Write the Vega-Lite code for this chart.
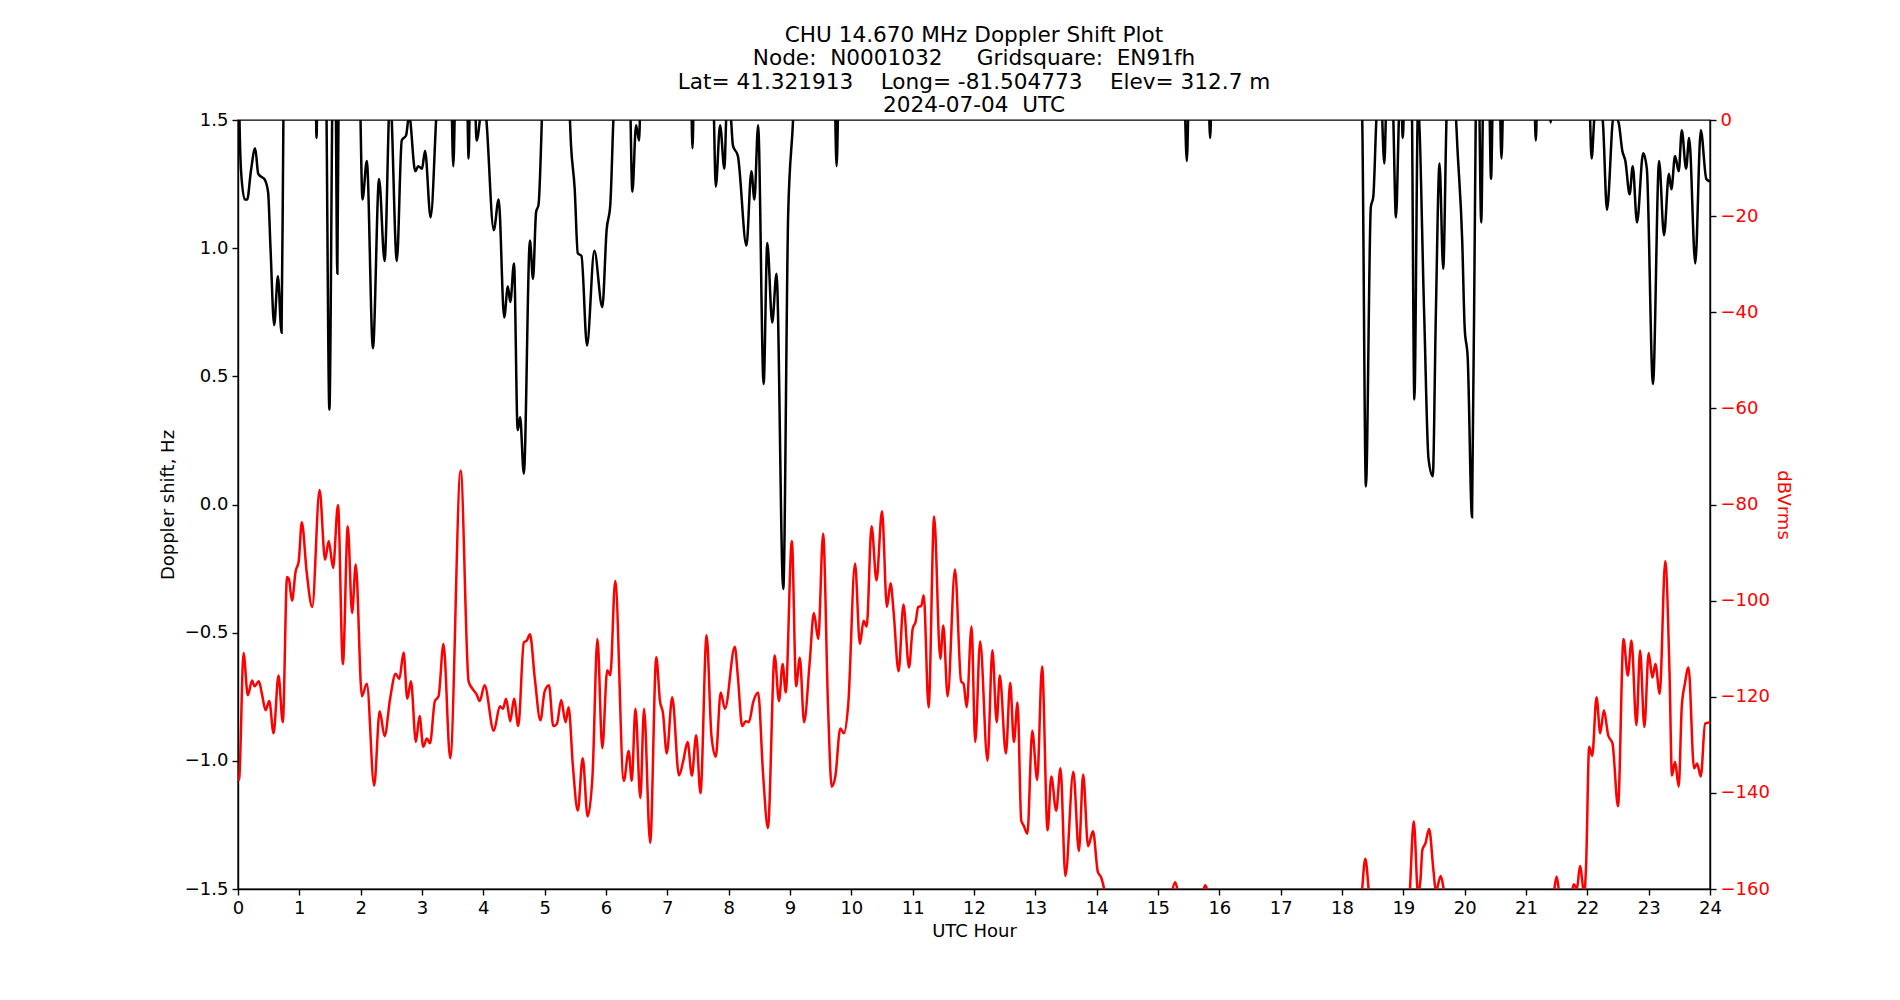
{
  "$schema": "https://vega.github.io/schema/vega-lite/v6.json",
  "width": 1472,
  "height": 769,
  "autosize": {"type": "none"},
  "padding": {"left": 238, "top": 120, "right": 190, "bottom": 111},
  "background": "white",
  "config": {
    "font": "DejaVu Sans",
    "view": {"stroke": "black", "strokeWidth": 1.4},
    "axis": {
      "labelFontSize": 18, "titleFontSize": 18, "titleFontWeight": "normal",
      "labelColor": "black", "titleColor": "black", "tickColor": "black", "domainColor": "black",
      "tickSize": 6, "labelPadding": 4, "grid": false, "domainWidth": 1.4, "tickWidth": 1.4,
      "labelFlush": false, "labelOverlap": false
    }
  },
  "title": {
    "text": ["CHU 14.670 MHz Doppler Shift Plot", "Node:\u00a0\u00a0N0001032\u00a0\u00a0\u00a0\u00a0\u00a0Gridsquare:\u00a0\u00a0EN91fh", "Lat=\u00a041.321913\u00a0\u00a0\u00a0\u00a0Long=\u00a0-81.504773\u00a0\u00a0\u00a0\u00a0Elev=\u00a0312.7\u00a0m", "2024-07-04\u00a0\u00a0UTC"],
    "fontSize": 21.6, "fontWeight": "normal", "anchor": "middle", "frame": "group", "offset": -6, "lineHeight": 23.5, "color": "black"
  },
  "datasets": {
    "dop": [
      {"h":0.0,"v":2.0},{"h":0.01,"v":1.75},{"h":0.05,"v":1.3},{"h":0.11,"v":1.19},{"h":0.15,"v":1.19},{"h":0.21,"v":1.3},{"h":0.28,"v":1.39},{"h":0.33,"v":1.29},{"h":0.37,"v":1.28},{"h":0.43,"v":1.27},{"h":0.49,"v":1.22},{"h":0.53,"v":1.0},{"h":0.59,"v":0.70},{"h":0.65,"v":0.89},{"h":0.71,"v":0.67},{"h":0.74,"v":1.5},{"h":0.77,"v":2.0},
      {"h":1.0,"v":2.5},{"h":1.26,"v":1.8},{"h":1.28,"v":1.43},{"h":1.30,"v":1.8},{"h":1.36,"v":2.2},{"h":1.43,"v":1.8},{"h":1.49,"v":0.37},{"h":1.55,"v":1.8},{"h":1.58,"v":1.9},{"h":1.62,"v":0.90},{"h":1.65,"v":1.9},{"h":1.8,"v":2.3},{"h":1.98,"v":1.7},
      {"h":2.03,"v":1.19},{"h":2.10,"v":1.34},{"h":2.20,"v":0.61},{"h":2.30,"v":1.27},{"h":2.39,"v":0.95},{"h":2.48,"v":1.6},{"h":2.59,"v":0.95},{"h":2.67,"v":1.42},{"h":2.74,"v":1.44},{"h":2.79,"v":1.52},{"h":2.89,"v":1.30},{"h":2.94,"v":1.32},{"h":3.0,"v":1.31},{"h":3.05,"v":1.38},{"h":3.14,"v":1.12},{"h":3.24,"v":1.55},{"h":3.35,"v":2.0},{"h":3.47,"v":1.7},{"h":3.51,"v":1.32},{"h":3.55,"v":1.7},{"h":3.65,"v":2.0},{"h":3.73,"v":1.7},{"h":3.76,"v":1.35},{"h":3.79,"v":1.7},{"h":3.86,"v":1.6},{"h":3.89,"v":1.42},{"h":3.97,"v":1.55},{"h":4.01,"v":1.6},
      {"h":4.05,"v":1.5},{"h":4.17,"v":1.07},{"h":4.25,"v":1.19},{"h":4.34,"v":0.73},{"h":4.40,"v":0.85},{"h":4.44,"v":0.79},{"h":4.50,"v":0.94},{"h":4.56,"v":0.29},{"h":4.60,"v":0.34},{"h":4.66,"v":0.12},{"h":4.76,"v":1.03},{"h":4.81,"v":0.88},{"h":4.86,"v":1.14},{"h":4.90,"v":1.17},{"h":4.96,"v":1.55},{"h":5.0,"v":1.9},{"h":5.2,"v":2.3},{"h":5.38,"v":1.7},{"h":5.43,"v":1.4},{"h":5.49,"v":1.23},{"h":5.54,"v":0.98},{"h":5.60,"v":0.97},{"h":5.69,"v":0.62},{"h":5.81,"v":0.99},{"h":5.94,"v":0.77},{"h":6.01,"v":1.07},{"h":6.07,"v":1.17},{"h":6.12,"v":1.5},{"h":6.2,"v":1.9},{"h":6.38,"v":1.7},{"h":6.43,"v":1.22},{"h":6.49,"v":1.48},{"h":6.54,"v":1.42},{"h":6.57,"v":1.7},{"h":6.8,"v":2.2},{"h":7.38,"v":1.7},{"h":7.41,"v":1.39},{"h":7.44,"v":1.7},{"h":7.6,"v":2.0},{"h":7.75,"v":1.6},{"h":7.79,"v":1.24},{"h":7.86,"v":1.48},{"h":7.93,"v":1.31},{"h":7.97,"v":1.55},{"h":8.02,"v":1.55},
      {"h":8.07,"v":1.40},{"h":8.15,"v":1.36},{"h":8.29,"v":1.01},{"h":8.37,"v":1.30},{"h":8.42,"v":1.19},{"h":8.48,"v":1.48},{"h":8.57,"v":0.47},{"h":8.63,"v":1.02},{"h":8.71,"v":0.71},{"h":8.78,"v":0.90},{"h":8.89,"v":-0.33},{"h":8.97,"v":1.13},{"h":9.05,"v":1.5},{"h":9.1,"v":1.8},{"h":9.4,"v":2.3},{"h":9.72,"v":1.7},{"h":9.76,"v":1.32},{"h":9.80,"v":1.7},{"h":10.2,"v":2.3},{"h":12.5,"v":2.4},{"h":15.2,"v":2.1},{"h":15.42,"v":1.7},{"h":15.47,"v":1.34},{"h":15.51,"v":1.7},{"h":15.65,"v":2.0},{"h":15.82,"v":1.65},{"h":15.85,"v":1.43},{"h":15.88,"v":1.65},{"h":16.5,"v":2.3},
      {"h":18.25,"v":2.0},{"h":18.33,"v":1.5},{"h":18.39,"v":0.07},{"h":18.47,"v":1.16},{"h":18.51,"v":1.20},{"h":18.56,"v":1.5},{"h":18.62,"v":1.7},{"h":18.69,"v":1.33},{"h":18.73,"v":1.6},{"h":18.82,"v":1.6},{"h":18.88,"v":1.12},{"h":18.94,"v":1.55},{"h":18.97,"v":1.55},{"h":18.99,"v":1.43},{"h":19.02,"v":1.6},{"h":19.13,"v":1.7},{"h":19.18,"v":0.41},{"h":19.24,"v":1.55},{"h":19.34,"v":0.74},{"h":19.41,"v":0.18},{"h":19.48,"v":0.11},{"h":19.53,"v":0.74},{"h":19.59,"v":1.33},{"h":19.65,"v":0.92},{"h":19.71,"v":1.55},{"h":19.78,"v":1.7},{"h":19.85,"v":1.55},{"h":19.88,"v":1.40},{"h":19.96,"v":1.03},{"h":20.0,"v":0.69},{"h":20.05,"v":0.57},{"h":20.12,"v":-0.05},{"h":20.18,"v":1.5},{"h":20.22,"v":1.8},{"h":20.27,"v":1.10},{"h":20.31,"v":1.7},{"h":20.39,"v":1.7},{"h":20.43,"v":1.27},{"h":20.47,"v":1.7},{"h":20.56,"v":1.7},{"h":20.60,"v":1.35},{"h":20.64,"v":1.7},{"h":20.9,"v":2.1},{"h":21.13,"v":1.65},{"h":21.16,"v":1.42},{"h":21.19,"v":1.65},{"h":21.37,"v":1.6},{"h":21.40,"v":1.49},{"h":21.43,"v":1.6},{"h":21.75,"v":2.0},{"h":22.03,"v":1.6},
      {"h":22.07,"v":1.35},{"h":22.12,"v":1.52},{"h":22.18,"v":1.55},{"h":22.25,"v":1.5},{"h":22.32,"v":1.15},{"h":22.43,"v":1.52},{"h":22.51,"v":1.49},{"h":22.57,"v":1.38},{"h":22.62,"v":1.34},{"h":22.69,"v":1.21},{"h":22.74,"v":1.32},{"h":22.81,"v":1.10},{"h":22.91,"v":1.37},{"h":22.97,"v":1.31},{"h":23.07,"v":0.47},{"h":23.17,"v":1.34},{"h":23.25,"v":1.05},{"h":23.33,"v":1.29},{"h":23.37,"v":1.23},{"h":23.43,"v":1.36},{"h":23.49,"v":1.30},{"h":23.54,"v":1.46},{"h":23.61,"v":1.31},{"h":23.66,"v":1.43},{"h":23.76,"v":0.94},{"h":23.85,"v":1.46},{"h":23.94,"v":1.27},{"h":24.0,"v":1.26}
    ],
    "pwr": [
      {"h":0.0,"db":-137.5},{"h":0.02,"db":-136.9},{"h":0.09,"db":-110.9},{"h":0.16,"db":-119.7},{"h":0.23,"db":-116.6},{"h":0.27,"db":-117.8},{"h":0.34,"db":-116.8},{"h":0.39,"db":-119.4},{"h":0.45,"db":-122.8},{"h":0.51,"db":-120.9},{"h":0.58,"db":-127.6},{"h":0.66,"db":-115.6},{"h":0.73,"db":-125.3},{"h":0.80,"db":-95.1},{"h":0.83,"db":-95.5},{"h":0.88,"db":-100.0},{"h":0.94,"db":-93.9},{"h":0.99,"db":-91.8},{"h":1.04,"db":-83.7},{"h":1.12,"db":-94.1},{"h":1.21,"db":-101.3},{"h":1.33,"db":-77.0},{"h":1.42,"db":-91.5},{"h":1.48,"db":-87.6},{"h":1.55,"db":-93.2},{"h":1.63,"db":-80.1},{"h":1.71,"db":-113.2},{"h":1.79,"db":-84.5},{"h":1.86,"db":-102.6},{"h":1.92,"db":-92.5},
      {"h":2.02,"db":-119.9},{"h":2.10,"db":-117.3},{"h":2.22,"db":-138.5},{"h":2.31,"db":-123.0},{"h":2.39,"db":-128.2},{"h":2.48,"db":-120.4},{"h":2.57,"db":-115.2},{"h":2.63,"db":-116.3},{"h":2.70,"db":-110.8},{"h":2.76,"db":-120.4},{"h":2.82,"db":-116.8},{"h":2.90,"db":-129.4},{"h":2.96,"db":-124.0},{"h":3.02,"db":-130.4},{"h":3.08,"db":-128.7},{"h":3.13,"db":-129.7},{"h":3.21,"db":-120.9},{"h":3.27,"db":-119.9},{"h":3.35,"db":-109.0},{"h":3.46,"db":-132.8},{"h":3.63,"db":-72.9},{"h":3.76,"db":-116.8},{"h":3.82,"db":-118.3},{"h":3.89,"db":-119.5},{"h":3.94,"db":-120.9},
      {"h":4.02,"db":-117.6},{"h":4.17,"db":-127.1},{"h":4.27,"db":-122.0},{"h":4.32,"db":-122.5},{"h":4.37,"db":-120.4},{"h":4.44,"db":-125.1},{"h":4.50,"db":-120.4},{"h":4.57,"db":-126.1},{"h":4.66,"db":-108.7},{"h":4.71,"db":-108.3},{"h":4.76,"db":-107.0},{"h":4.84,"db":-116.3},{"h":4.93,"db":-124.9},{"h":5.00,"db":-118.9},{"h":5.07,"db":-117.6},{"h":5.14,"db":-126.1},{"h":5.20,"db":-125.6},{"h":5.27,"db":-120.7},{"h":5.34,"db":-125.3},{"h":5.39,"db":-122.2},{"h":5.46,"db":-134.4},{"h":5.54,"db":-143.7},{"h":5.62,"db":-132.8},{"h":5.70,"db":-144.9},{"h":5.78,"db":-136.4},{"h":5.86,"db":-108.0},{"h":5.94,"db":-130.7},
      {"h":6.02,"db":-114.5},{"h":6.07,"db":-115.5},{"h":6.15,"db":-95.9},{"h":6.29,"db":-137.5},{"h":6.37,"db":-131.3},{"h":6.42,"db":-137.5},{"h":6.48,"db":-122.5},{"h":6.56,"db":-141.1},{"h":6.62,"db":-122.5},{"h":6.72,"db":-150.4},{"h":6.82,"db":-111.8},{"h":6.88,"db":-120.9},{"h":6.93,"db":-123.5},{"h":6.99,"db":-131.8},{"h":7.08,"db":-120.1},{"h":7.19,"db":-136.4},{"h":7.26,"db":-133.3},{"h":7.33,"db":-129.4},{"h":7.40,"db":-136.4},{"h":7.47,"db":-128.0},{"h":7.54,"db":-140.1},{"h":7.64,"db":-107.2},{"h":7.72,"db":-128.2},{"h":7.79,"db":-132.5},{"h":7.87,"db":-119.1},{"h":7.94,"db":-122.5},
      {"h":8.10,"db":-109.6},{"h":8.15,"db":-115.8},{"h":8.22,"db":-126.1},{"h":8.28,"db":-125.1},{"h":8.33,"db":-125.3},{"h":8.40,"db":-121.1},{"h":8.48,"db":-119.1},{"h":8.56,"db":-135.9},{"h":8.64,"db":-147.3},{"h":8.75,"db":-111.4},{"h":8.82,"db":-120.9},{"h":8.88,"db":-113.2},{"h":8.93,"db":-119.1},{"h":9.03,"db":-87.6},{"h":9.10,"db":-117.8},{"h":9.16,"db":-111.9},{"h":9.23,"db":-125.3},{"h":9.32,"db":-113.0},{"h":9.39,"db":-102.6},{"h":9.46,"db":-108.0},{"h":9.54,"db":-86.1},{"h":9.62,"db":-122.0},{"h":9.68,"db":-138.7},{"h":9.74,"db":-136.5},{"h":9.82,"db":-126.6},{"h":9.88,"db":-127.6},{"h":9.95,"db":-121.5},
      {"h":10.06,"db":-92.3},{"h":10.14,"db":-109.0},{"h":10.20,"db":-104.2},{"h":10.25,"db":-105.4},{"h":10.33,"db":-84.5},{"h":10.41,"db":-95.8},{"h":10.50,"db":-81.4},{"h":10.58,"db":-101.3},{"h":10.64,"db":-96.4},{"h":10.69,"db":-102.5},{"h":10.77,"db":-114.7},{"h":10.85,"db":-100.8},{"h":10.94,"db":-113.9},{"h":11.00,"db":-105.9},{"h":11.05,"db":-104.3},{"h":11.09,"db":-101.3},{"h":11.14,"db":-101.1},{"h":11.18,"db":-98.9},{"h":11.26,"db":-122.2},{"h":11.35,"db":-82.5},{"h":11.45,"db":-112.1},{"h":11.50,"db":-105.2},{"h":11.57,"db":-119.9},{"h":11.69,"db":-93.5},{"h":11.79,"db":-116.8},{"h":11.83,"db":-117.3},{"h":11.88,"db":-122.2},{"h":11.96,"db":-105.4},
      {"h":12.02,"db":-129.4},{"h":12.10,"db":-108.5},{"h":12.22,"db":-133.3},{"h":12.30,"db":-110.3},{"h":12.37,"db":-125.3},{"h":12.42,"db":-115.6},{"h":12.52,"db":-131.8},{"h":12.59,"db":-117.1},{"h":12.65,"db":-129.4},{"h":12.71,"db":-121.2},{"h":12.77,"db":-145.7},{"h":12.81,"db":-146.8},{"h":12.87,"db":-148.5},{"h":12.95,"db":-127.1},{"h":13.03,"db":-137.3},{"h":13.11,"db":-113.7},{"h":13.20,"db":-147.8},{"h":13.26,"db":-136.6},{"h":13.34,"db":-143.7},{"h":13.41,"db":-134.9},{"h":13.49,"db":-157.3},{"h":13.62,"db":-135.6},{"h":13.71,"db":-152.1},{"h":13.78,"db":-136.2},{"h":13.86,"db":-151.1},{"h":13.94,"db":-148.0},{"h":14.02,"db":-156.5},{"h":14.07,"db":-157.5},{"h":14.13,"db":-160.5},{"h":14.2,"db":-166},
      {"h":14.6,"db":-175},{"h":15.2,"db":-162},{"h":15.28,"db":-158.6},{"h":15.36,"db":-162},{"h":15.7,"db":-162},{"h":15.77,"db":-159.2},{"h":15.84,"db":-162},{"h":16.5,"db":-175},{"h":18.3,"db":-163},{"h":18.38,"db":-153.7},{"h":18.46,"db":-163},{"h":19.0,"db":-175},{"h":19.10,"db":-162},{"h":19.17,"db":-145.9},{"h":19.24,"db":-161},{"h":19.28,"db":-158},{"h":19.31,"db":-151.9},{"h":19.36,"db":-150.5},{"h":19.42,"db":-147.5},{"h":19.49,"db":-156},{"h":19.53,"db":-160.5},{"h":19.61,"db":-157.3},{"h":19.67,"db":-161},{"h":19.8,"db":-170},{"h":21.0,"db":-175},{"h":21.44,"db":-162},{"h":21.50,"db":-157.4},{"h":21.56,"db":-162},{"h":21.72,"db":-162},{"h":21.78,"db":-159},{"h":21.83,"db":-160},{"h":21.88,"db":-155.2},{"h":21.95,"db":-161},{"h":21.98,"db":-155},
      {"h":22.03,"db":-130.4},{"h":22.08,"db":-132.3},{"h":22.15,"db":-120.1},{"h":22.21,"db":-127.6},{"h":22.27,"db":-122.8},{"h":22.34,"db":-128.0},{"h":22.41,"db":-129.7},{"h":22.50,"db":-142.8},{"h":22.59,"db":-108.0},{"h":22.66,"db":-115.6},{"h":22.72,"db":-108.3},{"h":22.80,"db":-125.9},{"h":22.86,"db":-110.4},{"h":22.93,"db":-126.3},{"h":23.00,"db":-110.9},{"h":23.06,"db":-116.0},{"h":23.11,"db":-113.2},{"h":23.18,"db":-119.4},{"h":23.27,"db":-91.8},{"h":23.34,"db":-115},{"h":23.38,"db":-136.4},{"h":23.43,"db":-133.5},{"h":23.49,"db":-138.7},{"h":23.54,"db":-122},{"h":23.59,"db":-117.3},{"h":23.65,"db":-113.9},{"h":23.74,"db":-134.9},{"h":23.79,"db":-133.9},{"h":23.85,"db":-136.6},{"h":23.92,"db":-125.6},{"h":24.0,"db":-125.3}
    ]
  },
  "layer": [
    {
      "layer": [
        {
          "mark": {"type": "rule", "color": "#808080", "strokeWidth": 1.5},
          "encoding": {
            "y": {"datum": 0, "type": "quantitative", "scale": {"domain": [-1.5, 1.5], "nice": false}, "title": "Doppler shift, Hz", "axis": {"orient": "left", "values": [-1.5, -1.0, -0.5, 0.0, 0.5, 1.0, 1.5], "format": ".1f", "titlePadding": 7}}
          }
        },
        {
          "data": {"name": "dop"},
          "mark": {"type": "line", "color": "black", "strokeWidth": 2.5, "interpolate": "monotone", "clip": true},
          "encoding": {
            "x": {"field": "h", "type": "quantitative", "scale": {"domain": [0, 24], "nice": false}, "title": "UTC Hour", "axis": {"values": [0,1,2,3,4,5,6,7,8,9,10,11,12,13,14,15,16,17,18,19,20,21,22,23,24], "format": "d", "titlePadding": 5}},
            "y": {"field": "v", "type": "quantitative", "scale": {"domain": [-1.5, 1.5], "nice": false}, "title": "Doppler shift, Hz", "axis": {"orient": "left", "values": [-1.5, -1.0, -0.5, 0.0, 0.5, 1.0, 1.5], "format": ".1f", "titlePadding": 7}}
          }
        }
      ]
    },
    {
      "data": {"name": "pwr"},
      "mark": {"type": "line", "color": "red", "strokeWidth": 2.5, "interpolate": "monotone", "clip": true},
      "encoding": {
        "x": {"field": "h", "type": "quantitative", "scale": {"domain": [0, 24], "nice": false}, "title": "UTC Hour", "axis": {"values": [0,1,2,3,4,5,6,7,8,9,10,11,12,13,14,15,16,17,18,19,20,21,22,23,24], "format": "d", "titlePadding": 5}},
        "y": {"field": "db", "type": "quantitative", "scale": {"domain": [-160, 0], "nice": false}, "title": "dBVrms", "axis": {"orient": "right", "values": [-160,-140,-120,-100,-80,-60,-40,-20,0], "format": "d", "labelColor": "red", "titleColor": "red", "titlePadding": 4}}
      }
    }
  ],
  "resolve": {"scale": {"y": "independent"}}
}
